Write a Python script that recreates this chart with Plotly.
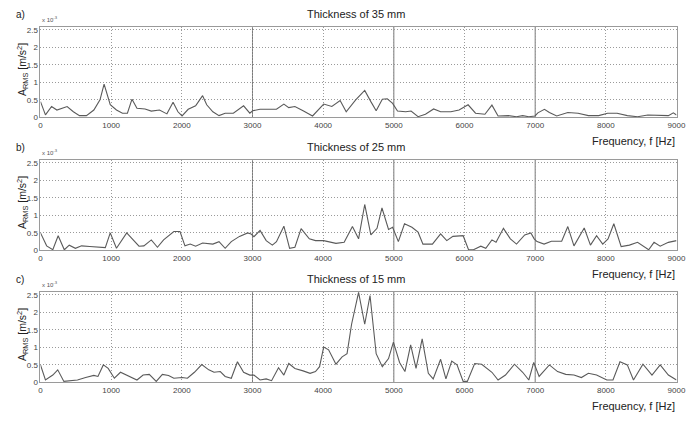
import plotly.graph_objects as go

# ---- data (amplitudes in units of 1e-3 m/s^2) ----
freq_a = [0, 70, 157, 232, 377, 465, 552, 650, 755, 842, 900, 940, 987, 1075, 1160, 1230, 1295, 1365, 1480, 1568,
          1684, 1789, 1876, 1945, 2003, 2090, 2195, 2294, 2352, 2439, 2526, 2613, 2729, 2874, 2962, 3002, 3107, 3339,
          3444, 3513, 3600, 3716, 3850, 4007, 4123, 4240, 4326, 4460, 4588, 4675, 4750, 4837, 4907, 4983, 5052, 5168,
          5244, 5343, 5447, 5563, 5662, 5807, 5923, 6051, 6156, 6289, 6388, 6475, 6620, 6736, 6823, 6910, 6998, 7038,
          7131, 7201, 7305, 7462, 7607, 7753, 7898, 8025, 8159, 8304, 8449, 8594, 8769, 8885, 8955, 9000]
amp_a = [0.45, 0.07, 0.31, 0.21, 0.31, 0.16, 0.05, 0.05, 0.21, 0.5, 0.95, 0.69, 0.36, 0.21, 0.12, 0.12, 0.52, 0.26, 0.24, 0.18,
         0.21, 0.1, 0.43, 0.16, 0.04, 0.23, 0.33, 0.62, 0.36, 0.16, 0.05, 0.12, 0.12, 0.33, 0.12, 0.19, 0.23, 0.23,
         0.38, 0.28, 0.31, 0.19, 0.04, 0.38, 0.31, 0.48, 0.16, 0.5, 0.77, 0.45, 0.19, 0.52, 0.53, 0.4, 0.18, 0.16,
         0.18, 0.02, 0.09, 0.24, 0.16, 0.16, 0.21, 0.36, 0.12, 0.09, 0.35, 0.04, 0.05, 0.02, 0.05, 0.02, 0.04, 0.13,
         0.23, 0.14, 0.04, 0.14, 0.12, 0.05, 0.05, 0.12, 0.12, 0.05, 0.02, 0.07, 0.05, 0.05, 0.13, 0.07]

freq_b = [0, 87, 174, 250, 337, 407, 494, 581, 697, 871, 917, 987, 1075, 1220, 1394, 1463, 1568, 1655, 1742, 1887,
          1974, 2044, 2119, 2195, 2294, 2439, 2526, 2613, 2700, 2816, 2932, 2979, 3020, 3107, 3194, 3281, 3339, 3444,
          3525, 3600, 3688, 3804, 3891, 4007, 4094, 4181, 4297, 4414, 4501, 4588, 4675, 4762, 4832, 4925, 4983, 5064,
          5151, 5256, 5343, 5412, 5546, 5662, 5749, 5836, 5981, 6057, 6127, 6231, 6301, 6388, 6446, 6551, 6649, 6736,
          6852, 6939, 6986, 7026, 7126, 7230, 7375, 7462, 7549, 7694, 7782, 7869, 7956, 8031, 8113, 8217, 8333, 8449,
          8606, 8682, 8769, 8885, 9000]
amp_b = [0.5, 0.13, 0.02, 0.42, 0.02, 0.15, 0.06, 0.13, 0.11, 0.08, 0.08, 0.5, 0.06, 0.5, 0.12, 0.13, 0.3, 0.09, 0.3, 0.54,
         0.54, 0.13, 0.18, 0.12, 0.21, 0.18, 0.25, 0.06, 0.25, 0.4, 0.5, 0.47, 0.39, 0.57, 0.28, 0.15, 0.25, 0.69,
         0.06, 0.09, 0.62, 0.33, 0.28, 0.28, 0.23, 0.2, 0.23, 0.68, 0.33, 1.31, 0.44, 0.63, 1.21, 0.6, 0.66, 0.25,
         0.76, 0.66, 0.52, 0.18, 0.18, 0.47, 0.28, 0.4, 0.42, 0.02, 0.02, 0.12, 0.06, 0.3, 0.23, 0.63, 0.33, 0.18,
         0.44, 0.5, 0.33, 0.25, 0.18, 0.26, 0.26, 0.68, 0.13, 0.64, 0.15, 0.42, 0.18, 0.33, 0.76, 0.11, 0.15, 0.23,
         0.02, 0.23, 0.12, 0.23, 0.28]

freq_c = [0, 70, 174, 244, 331, 407, 523, 639, 755, 813, 889, 958, 1045, 1132, 1248, 1365, 1452, 1539, 1638, 1725,
          1812, 1887, 2003, 2079, 2178, 2282, 2381, 2456, 2544, 2613, 2700, 2787, 2874, 2962, 3020, 3107, 3194, 3270,
          3368, 3444, 3513, 3600, 3716, 3815, 3891, 3949, 4007, 4077, 4181, 4268, 4338, 4402, 4501, 4588, 4663, 4750,
          4837, 4925, 4994, 5081, 5157, 5238, 5314, 5401, 5488, 5557, 5662, 5737, 5819, 5894, 5981, 6040, 6144, 6243,
          6388, 6475, 6580, 6707, 6823, 6910, 6980, 7056, 7201, 7317, 7433, 7549, 7654, 7753, 7869, 8014, 8101, 8200,
          8304, 8391, 8525, 8653, 8769, 8885, 9000]
amp_c = [0.5, 0.07, 0.21, 0.36, 0.03, 0.05, 0.07, 0.14, 0.2, 0.17, 0.5, 0.4, 0.12, 0.29, 0.17, 0.07, 0.21, 0.23, 0.03, 0.23,
         0.2, 0.12, 0.14, 0.12, 0.29, 0.51, 0.36, 0.29, 0.31, 0.17, 0.12, 0.59, 0.29, 0.21, 0.21, 0.07, 0.1, 0.05,
         0.42, 0.21, 0.54, 0.4, 0.33, 0.26, 0.31, 0.45, 1.01, 0.93, 0.52, 0.73, 0.82, 1.66, 2.57, 1.66, 2.48, 0.82,
         0.45, 0.68, 1.15, 0.57, 0.31, 1.07, 0.4, 1.24, 0.26, 0.1, 0.66, 0.1, 0.61, 0.5, 0.03, 0.03, 0.54, 0.52,
         0.29, 0.07, 0.21, 0.52, 0.29, 0.07, 0.57, 0.17, 0.5, 0.31, 0.23, 0.21, 0.14, 0.26, 0.21, 0.07, 0.07, 0.59,
         0.5, 0.07, 0.52, 0.21, 0.5, 0.21, 0.07]

panel_titles = ["Thickness of 35 mm", "Thickness of 25 mm", "Thickness of 15 mm"]
panel_labels = ["a)", "b)", "c)"]
x_ticks = [0, 1000, 2000, 3000, 4000, 5000, 6000, 7000, 8000, 9000]
y_ticks = [0, 0.5, 1, 1.5, 2, 2.5]
y_ticktext = ["0", "0.5", "1", "1.5", "2", "2.5"]

# The page body has an 8px margin on every side; size the figure so the page is exactly 694x425.
OFF = 8
W, H = 694 - 2 * OFF, 425 - 2 * OFF

def xp(p):
    return min(1.0, (p - OFF) / W)

def yp(p):
    return 1 - (p - OFF) / H

# reference pixel positions: (zero line, top of box)
panels = [(118, 26.2), (253, 161.2), (387, 295.2)]
series = [(freq_a, amp_a), (freq_b, amp_b), (freq_c, amp_c)]

fig = go.Figure()
font_family = "Liberation Sans, Arial, sans-serif"
xdom = [xp(39), xp(685.5)]
annotations = []
shapes = []
grid_dash = "1px,2px"

for i, ((fx, ay), (p0, ptop)) in enumerate(zip(series, panels)):
    n = "" if i == 0 else str(i + 1)
    fig.add_trace(go.Scatter(x=fx, y=ay, mode="lines", line=dict(color="#5a5a5a", width=1.1),
                             xaxis="x" + n, yaxis="y" + n, showlegend=False, hoverinfo="skip"))
    ax = dict(domain=xdom, range=[0, 9000], tickvals=x_ticks, ticks="", showline=True, mirror=True,
              linecolor="#9a9a9a", linewidth=1, showgrid=True, gridcolor="#9a9a9a", griddash=grid_dash,
              gridwidth=1, zeroline=False, tickfont=dict(size=8, color="#444444", family=font_family),
              anchor="y" + n, ticklabeloverflow="allow")
    ay_ = dict(domain=[yp(p0), yp(ptop)], range=[0, 2.58], tickvals=y_ticks, ticktext=y_ticktext, ticks="",
               showline=True, mirror=True, linecolor="#9a9a9a", linewidth=1, showgrid=True,
               gridcolor="#9a9a9a", griddash=grid_dash, gridwidth=1, zeroline=False,
               tickfont=dict(size=8, color="#444444", family=font_family), anchor="x" + n)
    fig.update_layout(**{"xaxis" + n: ax, "yaxis" + n: ay_})
    for xv in [3000, 5000, 7000]:
        shapes.append(dict(type="line", xref="x" + n, yref="y" + n, x0=xv, x1=xv, y0=0, y1=2.58,
                           line=dict(color="#7a7a7a", width=1), layer="below"))
    # title
    annotations.append(dict(text=panel_titles[i], xref="paper", yref="paper", x=xp(360), y=yp(ptop - 13),
                            showarrow=False, font=dict(size=11, color="#222222", family=font_family),
                            xanchor="center", yanchor="middle"))
    # panel label
    annotations.append(dict(text=panel_labels[i], xref="paper", yref="paper", x=xp(12), y=yp(ptop - 13),
                            showarrow=False, font=dict(size=10, color="#222222", family=font_family),
                            xanchor="left", yanchor="middle"))
    # exponent
    annotations.append(dict(text="x 10<sup>-3</sup>", xref="paper", yref="paper", x=xp(38), y=yp(ptop - 8),
                            showarrow=False, font=dict(size=6, color="#555555", family=font_family),
                            xanchor="left", yanchor="middle"))
    # y axis title
    annotations.append(dict(text="A<sub>RMS</sub> [m/s<sup>2</sup>]", xref="paper", yref="paper", x=xp(21),
                            y=yp((p0 + ptop) / 2 - 3), showarrow=False, textangle=-90,
                            font=dict(size=10.5, color="#222222", family=font_family),
                            xanchor="center", yanchor="middle"))
    # x axis title
    annotations.append(dict(text="Frequency, f [Hz]", xref="paper", yref="paper", x=xp(692), y=yp(p0 + 24),
                            showarrow=False, font=dict(size=11, color="#222222", family=font_family),
                            xanchor="right", yanchor="middle"))

fig.update_layout(width=W, height=H, margin=dict(l=0, r=0, t=0, b=0), paper_bgcolor="white",
                  plot_bgcolor="white", annotations=annotations, shapes=shapes, showlegend=False)

fig.write_html("out.html")
